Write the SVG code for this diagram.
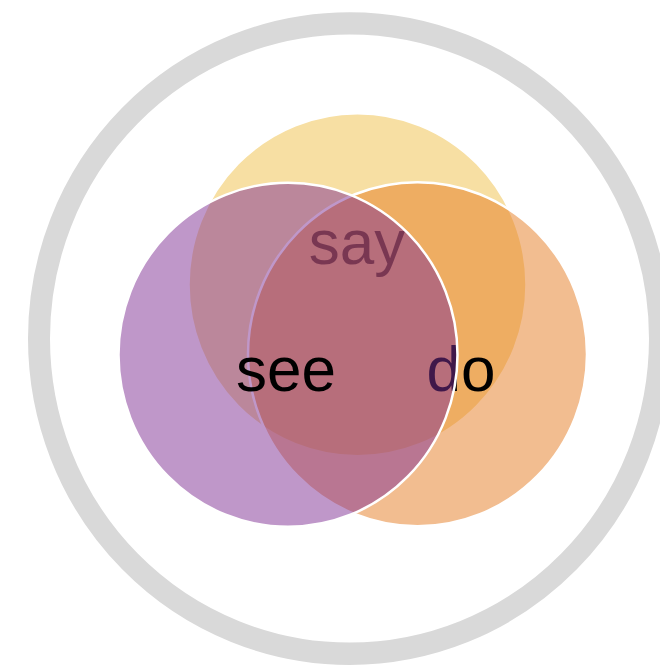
<svg xmlns="http://www.w3.org/2000/svg" width="660" height="670" viewBox="0 0 660 670">
  <style>
    .set { fill-opacity: 0.5; stroke: #ffffff; stroke-width: 2.5; }
    .label { font-family: "Liberation Sans", Arial, sans-serif; font-size: 62px; fill: #000000; text-anchor: middle; }
  </style>
  <rect x="0" y="0" width="660" height="670" fill="#ffffff"/>
  <g transform="matrix(1 0 0 1.01515 0 0)">
    <g id="frame">
      <circle cx="349.5" cy="333.5" r="310.5" fill="none" stroke="#d9d9d9" stroke-width="22"/>
    </g>
    <g id="say">
      <circle class="set" cx="357.5" cy="280.5" r="169" fill="#efbf47"/>
      <text class="label" x="357" y="260">say</text>
    </g>
    <g id="do">
      <circle class="set" cx="417.5" cy="349" r="169.5" fill="#e57b21"/>
      <text class="label" x="461" y="385">do</text>
    </g>
    <g id="see">
      <circle class="set" cx="288" cy="349.5" r="169.5" fill="#7f2f93"/>
      <text class="label" x="286" y="385">see</text>
    </g>
  </g>
  <g id="connectors"/>
</svg>
